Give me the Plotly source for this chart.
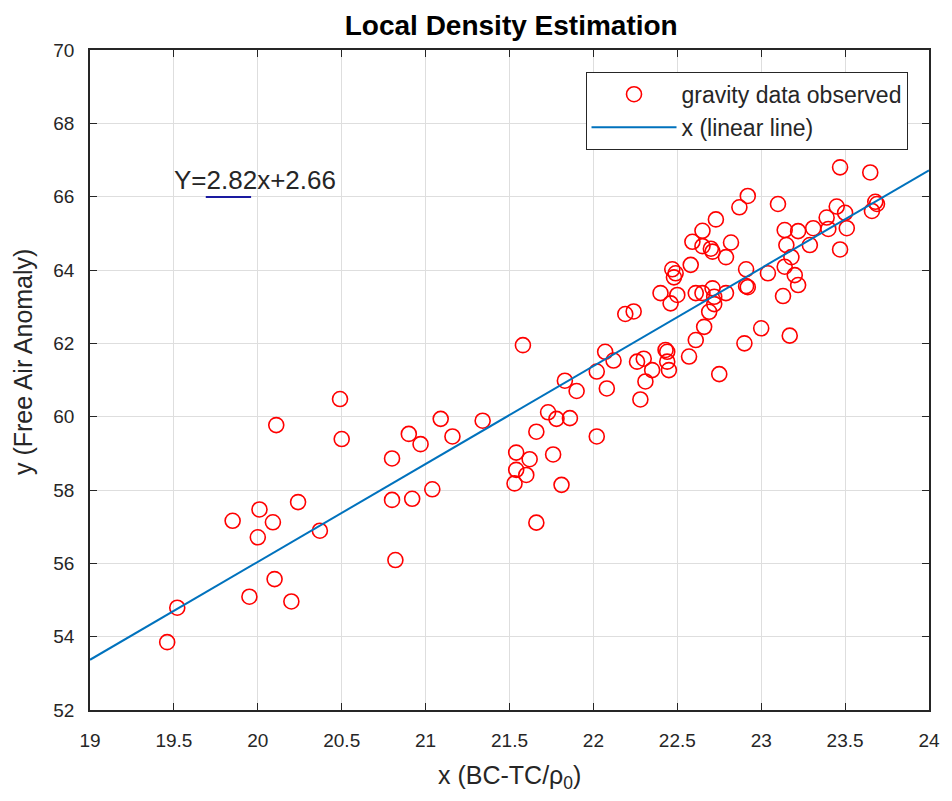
import plotly.graph_objects as go

# Observed gravity data (x: BC-TC/rho0, y: Free Air Anomaly)
obs_x = [19.46, 19.52, 19.85, 19.95, 20.00, 20.01, 20.09, 20.10, 20.11, 20.20,
         20.24, 20.37, 20.49, 20.50, 20.80, 20.80, 20.82, 20.90, 20.92, 20.97,
         21.04, 21.09, 21.16, 21.34, 21.53, 21.54, 21.54, 21.58, 21.60, 21.62,
         21.66, 21.66, 21.73, 21.76, 21.78, 21.81, 21.83, 21.86, 21.90, 22.02,
         22.02, 22.07, 22.08, 22.12, 22.19, 22.24, 22.26, 22.28, 22.30, 22.31,
         22.35, 22.43, 22.44, 22.44, 22.45, 22.40, 22.46, 22.47, 22.49, 22.48,
         22.50, 22.57, 22.58, 22.59, 22.61, 22.61, 22.65, 22.65, 22.65, 22.66,
         22.69, 22.70, 22.71, 22.71, 22.72, 22.72, 22.73, 22.75, 22.79, 22.79,
         22.82, 22.87, 22.90, 22.91, 22.91, 22.92, 22.92, 23.00, 23.04, 23.10,
         23.13, 23.14, 23.14, 23.15, 23.17, 23.18, 23.20, 23.22, 23.22, 23.29,
         23.31, 23.39, 23.40, 23.45, 23.47, 23.47, 23.50, 23.51, 23.65, 23.66,
         23.68, 23.69]
obs_y = [53.85, 54.79, 57.16, 55.09, 56.71, 57.47, 57.12, 55.57, 59.77, 54.96,
         57.67, 56.89, 60.48, 59.39, 58.86, 57.73, 56.09, 59.53, 57.76, 59.25,
         58.02, 59.94, 59.46, 59.89, 58.18, 58.55, 59.02, 61.95, 58.41, 58.84,
         59.59, 57.11, 60.12, 58.97, 59.94, 58.14, 60.98, 59.96, 60.70, 61.23,
         59.46, 61.77, 60.77, 61.53, 62.80, 62.87, 61.50, 60.47, 61.58, 60.96,
         61.27, 61.82, 61.77, 61.50, 61.27, 63.37, 63.09, 64.02, 63.91, 63.80,
         63.32, 61.64, 64.14, 64.77, 62.09, 63.37, 63.37, 65.07, 64.65, 62.45,
         62.86, 64.58, 64.50, 63.50, 63.27, 63.07, 65.38, 61.16, 63.37, 64.35,
         64.75, 65.71, 62.00, 64.02, 63.56, 63.53, 66.02, 62.41, 63.91, 65.80,
         63.29, 64.09, 65.09, 64.68, 62.21, 64.35, 63.86, 63.59, 65.06, 64.68,
         65.14, 65.43, 65.12, 65.73, 64.56, 66.80, 65.56, 65.14, 66.66, 65.61,
         65.86, 65.80]

# Fitted linear line endpoints
fit_x = [19.0, 24.0]
fit_y = [53.37, 66.72]

x_ticks = [19, 19.5, 20, 20.5, 21, 21.5, 22, 22.5, 23, 23.5, 24]
y_ticks = [52, 54, 56, 58, 60, 62, 64, 66, 68, 70]

equation_text = "Y=2.82x+2.66"

FONT = "Liberation Sans, Arial, sans-serif"
AXIS_COLOR = "#262626"

fig = go.Figure()
fig.add_trace(go.Scatter(
    x=obs_x, y=obs_y, mode="markers", name="gravity data observed",
    marker=dict(symbol="circle-open", size=15, color="#FF0000",
                line=dict(width=1.6, color="#FF0000")),
))
fig.add_trace(go.Scatter(
    x=fit_x, y=fit_y, mode="lines", name="x (linear line)",
    line=dict(color="#0072BD", width=2),
))

# equation text
fig.add_annotation(
    x=19.49, y=66.45, xref="x", yref="y", text=equation_text,
    showarrow=False, xanchor="left", yanchor="middle",
    font=dict(family=FONT, size=26, color="#262626"),
)
fig.add_shape(type="line", xref="x", yref="y", x0=19.69, x1=19.96, y0=65.99, y1=65.99,
              line=dict(color="#1a1aa0", width=2))

# axis titles as annotations
fig.add_annotation(
    x=-0.08, y=0.527, xref="paper", yref="paper", text="y (Free Air Anomaly)",
    textangle=-90, showarrow=False, xanchor="center", yanchor="middle",
    font=dict(family=FONT, size=25, color=AXIS_COLOR),
)
fig.add_annotation(
    x=0.5, y=-0.1015, xref="paper", yref="paper", text="x (BC-TC/ρ<sub>0</sub>)",
    showarrow=False, xanchor="center", yanchor="middle",
    font=dict(family=FONT, size=25, color=AXIS_COLOR),
)

axis_common = dict(
    showline=True, linecolor=AXIS_COLOR, linewidth=1.5, mirror="ticks",
    ticks="inside", ticklen=7, tickcolor=AXIS_COLOR, tickwidth=1,
    showgrid=True, gridcolor="#DEDEDE", gridwidth=1, zeroline=False,
    tickfont=dict(family=FONT, size=19, color=AXIS_COLOR),
)

fig.update_xaxes(
    range=[19, 24], tickvals=x_ticks, ticktext=[f"{v:g}" for v in x_ticks],
    ticklabelstandoff=12,
    **axis_common,
)
fig.update_yaxes(
    range=[52, 70], tickvals=y_ticks, ticktext=[str(v) for v in y_ticks],
    ticklabelstandoff=10,
    **axis_common,
)

fig.update_layout(
    width=952, height=801,
    margin=dict(l=90, r=12, t=50, b=91),
    paper_bgcolor="white", plot_bgcolor="white",
    title=dict(text="<b>Local Density Estimation</b>", x=0.537, xanchor="center",
               y=0.969, yanchor="middle",
               font=dict(family=FONT, size=28, color="#000000")),
    legend=dict(x=0.5906, y=0.967, xanchor="left", yanchor="top",
                bgcolor="white", bordercolor=AXIS_COLOR, borderwidth=1,
                font=dict(family=FONT, size=23, color="#262626"),
                tracegroupgap=0, itemwidth=85),
    showlegend=True,
)

fig.write_html("out.html")
